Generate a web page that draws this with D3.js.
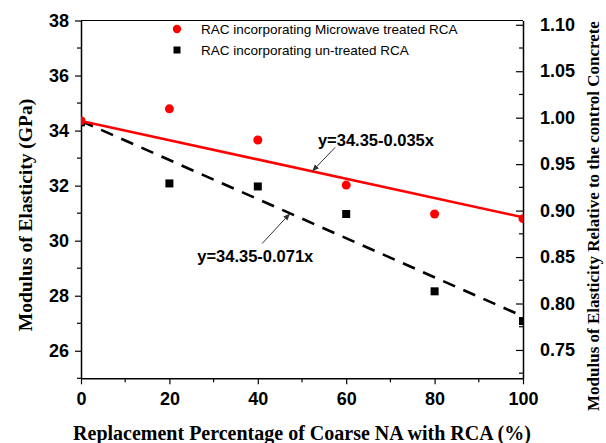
<!DOCTYPE html>
<html><head><meta charset="utf-8">
<script src="https://cdn.jsdelivr.net/npm/d3@7"></script>
<style>body{margin:0;background:#fff}svg{display:block}</style>
</head><body>
<svg id="c" width="606" height="443"></svg>
<script>
const replacement = [0, 20, 40, 60, 80, 100];
const microwaveE = [34.36, 34.79, 33.66, 32.02, 30.97, 30.80];
const untreatedE = [34.30, 32.08, 31.97, 30.97, 28.16, 27.08];
const fitMicrowave = {a: 34.35, b: -0.035, label: "y=34.35-0.035x"};
const fitUntreated = {a: 34.35, b: -0.071, label: "y=34.35-0.071x"};
const leftTicks = [26, 28, 30, 32, 34, 36, 38];
const rightTicks = [0.75, 0.80, 0.85, 0.90, 0.95, 1.00, 1.05, 1.10];
const xTicks = [0, 20, 40, 60, 80, 100];
const legendLabels = ["RAC incorporating Microwave treated RCA", "RAC incorporating un-treated RCA"];

const svg = d3.select("#c");
const m = {l: 81, t: 20.5, r: 83, b: 64.7};
const W = 606, H = 443;
const x = d3.scaleLinear().domain([0, 100]).range([m.l, W - m.r]);
const y = d3.scaleLinear().domain([25, 38]).range([H - m.b, m.t]);
const y2 = d3.scaleLinear().domain([0.7195, 1.1046]).range([H - m.b, m.t]);

const tickFont = "'Liberation Sans', Arial, sans-serif";
const serif = "'Liberation Serif', 'Times New Roman', serif";

svg.append("defs").append("clipPath").attr("id", "clip")
  .append("rect").attr("x", m.l).attr("y", m.t).attr("width", W - m.l - m.r).attr("height", H - m.t - m.b);
const mk = svg.select("defs").append("marker").attr("id", "ah")
  .attr("viewBox", "0 0 10 10").attr("refX", 10).attr("refY", 5)
  .attr("markerWidth", 7).attr("markerHeight", 7).attr("orient", "auto")
  .attr("markerUnits", "userSpaceOnUse");
mk.append("path").attr("d", "M0,1 L10,5 L0,9 Z").attr("fill", "#333");

svg.append("line").attr("x1", m.l).attr("x2", W - m.r).attr("y1", m.t).attr("y2", m.t)
  .attr("stroke", "#000").attr("stroke-width", 1.2);

function styleAxis(g) {
  g.selectAll("path.domain").attr("stroke", "#000").attr("stroke-width", 1.5);
  g.selectAll(".tick line").attr("stroke", "#000").attr("stroke-width", 1.2);
  g.selectAll("text").attr("font-family", tickFont).attr("font-weight", "bold").attr("font-size", 18).attr("fill", "#000");
}

const minorL = d3.range(25, 38.01, 1).filter(v => !leftTicks.includes(v));
const minorR = d3.range(0.725, 1.1, 0.05);
const minorX = d3.range(10, 100, 20);

const gx = svg.append("g").attr("transform", `translate(0,${H - m.b})`)
  .call(d3.axisBottom(x).tickValues(xTicks).tickSize(6).tickPadding(8).tickSizeOuter(0));
styleAxis(gx);
gx.selectAll(".minor").data(minorX).join("line").attr("class", "minor")
  .attr("x1", d => x(d)).attr("x2", d => x(d)).attr("y1", 0).attr("y2", 4).attr("stroke", "#000").attr("stroke-width", 1.2);

const gy = svg.append("g").attr("transform", `translate(${m.l},0)`)
  .call(d3.axisLeft(y).tickValues(leftTicks).tickSize(6).tickPadding(6).tickSizeOuter(0));
styleAxis(gy);
gy.selectAll(".minor").data(minorL).join("line").attr("class", "minor")
  .attr("y1", d => y(d)).attr("y2", d => y(d)).attr("x1", 0).attr("x2", -4).attr("stroke", "#000").attr("stroke-width", 1.2);

const gy2 = svg.append("g").attr("transform", `translate(${W - m.r},0)`)
  .call(d3.axisRight(y2).tickValues(rightTicks).tickFormat(d3.format(".2f")).tickSize(-7).tickPadding(17).tickSizeOuter(0));
styleAxis(gy2);
gy2.selectAll(".minor").data(minorR).join("line").attr("class", "minor")
  .attr("y1", d => y2(d)).attr("y2", d => y2(d)).attr("x1", 0).attr("x2", -4).attr("stroke", "#000").attr("stroke-width", 1.2);

const plot = svg.append("g").attr("clip-path", "url(#clip)");
const fitLine = f => d3.line().x(d => x(d)).y(d => y(f.a + f.b * d))([0, 100]);
plot.append("path").attr("d", fitLine(fitUntreated)).attr("stroke", "#000").attr("stroke-width", 2.6)
  .attr("stroke-dasharray", "13,9").attr("fill", "none");
plot.append("path").attr("d", fitLine(fitMicrowave)).attr("stroke", "#f00").attr("stroke-width", 2.6).attr("fill", "none");

plot.selectAll(".sq").data(replacement.map((r, i) => [r, untreatedE[i]])).join("rect")
  .attr("x", d => x(d[0]) - 4).attr("y", d => y(d[1]) - 4).attr("width", 8).attr("height", 8).attr("fill", "#000");
plot.selectAll(".ci").data(replacement.map((r, i) => [r, microwaveE[i]])).join("circle")
  .attr("cx", d => x(d[0])).attr("cy", d => y(d[1])).attr("r", 4.5).attr("fill", "#f00");

const ann = [
  {f: fitMicrowave, tx: 53.6, ty: 33.43, tail: [57.5, 33.39], tip: 52.3},
  {f: fitUntreated, tx: 26.3, ty: 29.22, tail: [41, 29.9], tip: 47.3}
];
ann.forEach(a => {
  svg.append("line").attr("x1", x(a.tail[0])).attr("y1", y(a.tail[1]))
    .attr("x2", x(a.tip)).attr("y2", y(a.f.a + a.f.b * a.tip))
    .attr("stroke", "#333").attr("stroke-width", 1).attr("marker-end", "url(#ah)");
  svg.append("text").attr("x", x(a.tx)).attr("y", y(a.ty)).text(a.f.label)
    .attr("font-family", tickFont).attr("font-weight", "bold").attr("font-size", 16.5).attr("fill", "#000");
});

const lg = svg.append("g");
lg.append("circle").attr("cx", 177).attr("cy", 29).attr("r", 4.2).attr("fill", "#f00");
lg.append("rect").attr("x", 173.5).attr("y", 46.5).attr("width", 7).attr("height", 7).attr("fill", "#000");
lg.selectAll("text").data(legendLabels).join("text")
  .attr("x", 201).attr("y", (d, i) => 34 + i * 21).text(d => d)
  .attr("font-family", tickFont).attr("font-size", 13.5).attr("fill", "#000");

svg.append("text").attr("x", 302).attr("y", 440).attr("text-anchor", "middle")
  .attr("font-family", serif).attr("font-weight", "bold").attr("font-size", 20)
  .text("Replacement Percentage of Coarse NA with RCA (%)");
svg.append("text").attr("transform", "translate(32,215) rotate(-90)").attr("text-anchor", "middle")
  .attr("font-family", serif).attr("font-weight", "bold").attr("font-size", 19.5)
  .text("Modulus of Elasticity (GPa)");
svg.append("text").attr("transform", "translate(599,216) rotate(-90)").attr("text-anchor", "middle")
  .attr("font-family", serif).attr("font-weight", "bold").attr("font-size", 17)
  .text("Modulus of Elasticity Relative to the control Concrete");
</script>
</body></html>
